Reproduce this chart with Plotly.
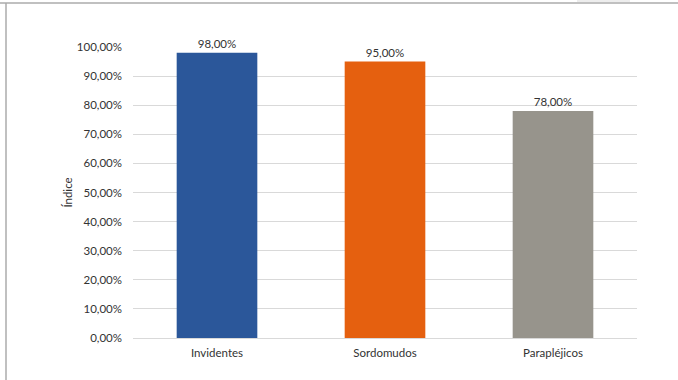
import plotly.graph_objects as go

categories = ["Invidentes", "Sordomudos", "Parapléjicos"]
values = [98.0, 95.0, 78.0]
colors = ["#2B579A", "#E5600F", "#97948C"]
tick_vals = [0, 10, 20, 30, 40, 50, 60, 70, 80, 90, 100]
tick_text = [f"{v:.2f}%".replace(".", ",") for v in tick_vals]

W, H = 678, 380
L, R, T, B = 133, 41, 47, 42
pw, ph = W - L - R, H - T - B

FONT = dict(family="Lato", size=11.5, color="#333333")


def px_x(x):
    return (x - L) / pw


def px_y(y):
    return (H - B - y) / ph


fig = go.Figure(
    go.Bar(
        x=categories,
        y=values,
        marker=dict(color=colors, line=dict(width=0)),
        width=0.48,
        text=values,
        texttemplate="%{y:.2f}%",
        textposition="outside",
        cliponaxis=False,
        textfont=FONT,
        hoverinfo="skip",
    )
)

fig.update_layout(
    width=W,
    height=H,
    margin=dict(l=L, r=R, t=T, b=B),
    paper_bgcolor="white",
    plot_bgcolor="white",
    separators=",.",
    showlegend=False,
    font=FONT,
    xaxis=dict(
        showgrid=False,
        showline=False,
        ticks="",
        ticklabelstandoff=6,
        tickfont=FONT,
    ),
    yaxis=dict(
        range=[0, 100],
        tickvals=tick_vals,
        ticktext=tick_text,
        showgrid=True,
        gridcolor="#D9D9D9",
        gridwidth=1,
        zeroline=True,
        zerolinecolor="#D9D9D9",
        zerolinewidth=1,
        showline=False,
        ticks="",
        ticklabelstandoff=10,
        tickfont=FONT,
        title=dict(text="Índice", font=FONT, standoff=1),
    ),
    shapes=[
        # frame: top and left edges
        dict(type="line", xref="paper", yref="paper",
             x0=px_x(0), x1=px_x(W), y0=px_y(3), y1=px_y(3),
             line=dict(color="#ABABAB", width=1.5)),
        dict(type="line", xref="paper", yref="paper",
             x0=px_x(6), x1=px_x(6), y0=px_y(3), y1=px_y(H),
             line=dict(color="#ABABAB", width=1.5)),
        dict(type="rect", xref="paper", yref="paper",
             x0=px_x(577), x1=px_x(630), y0=px_y(2), y1=px_y(0),
             fillcolor="#EDEDED", line=dict(width=0)),
    ],
)

fig.write_html("out.html")
